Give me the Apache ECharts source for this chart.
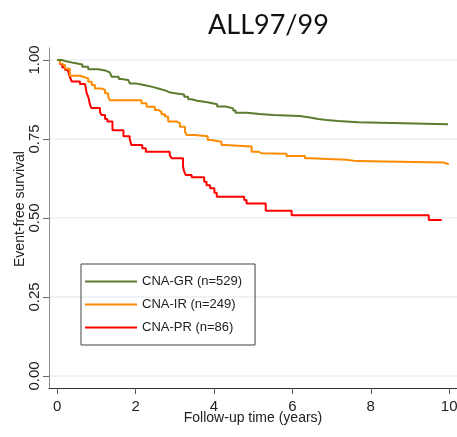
<!DOCTYPE html>
<html>
<head>
<meta charset="utf-8">
<script src="https://cdn.jsdelivr.net/npm/echarts@6/dist/echarts.min.js"></script>
<style>html,body{margin:0;padding:0;background:#fff;}#c{width:457px;height:437px;}</style>
</head>
<body>
<div id="c"></div>
<script>
const chartTitle = "ALL97/99";
const xTicks = [0, 2, 4, 6, 8, 10];
const yTicks = [0, 0.25, 0.5, 0.75, 1];
const seriesNames = ["CNA-GR (n=529)", "CNA-IR (n=249)", "CNA-PR (n=86)"];

const greenT = [0, 0.11, 0.20, 0.41, 0.64, 0.79, 1.05, 1.22, 1.34, 1.39, 1.57, 1.64, 1.81, 1.85, 2.00, 2.21, 2.43, 2.60, 2.77, 2.88, 3.00, 3.24, 3.34, 3.43, 3.57, 3.83, 4.08, 4.30, 4.49, 4.55, 4.84, 5.16, 5.51, 6.18, 6.45, 6.66, 6.87, 7.17, 7.68, 9.97];
const greenS = [1, 0.997, 0.991, 0.986, 0.979, 0.971, 0.967, 0.961, 0.955, 0.947, 0.940, 0.937, 0.931, 0.926, 0.921, 0.915, 0.909, 0.903, 0.897, 0.895, 0.891, 0.884, 0.876, 0.871, 0.866, 0.860, 0.853, 0.847, 0.840, 0.833, 0.829, 0.826, 0.823, 0.818, 0.813, 0.810, 0.807, 0.803, 0.797, 0.797];

const orangeT = [0, 0.07, 0.11, 0.20, 0.32, 0.58, 0.66, 0.79, 0.88, 0.96, 1.13, 1.22, 1.30, 1.34, 2.15, 2.28, 2.49, 2.58, 2.66, 2.75, 2.83, 3.05, 3.13, 3.26, 3.30, 3.52, 3.84, 3.94, 4.19, 4.28, 4.96, 5.13, 5.21, 5.85, 6.32, 6.45, 7.38, 7.64, 9.85, 9.99];
const orangeS = [1, 0.990, 0.984, 0.972, 0.950, 0.947, 0.942, 0.931, 0.921, 0.910, 0.905, 0.895, 0.884, 0.873, 0.863, 0.852, 0.842, 0.836, 0.828, 0.821, 0.805, 0.800, 0.789, 0.773, 0.763, 0.759, 0.747, 0.741, 0.731, 0.726, 0.710, 0.705, 0.703, 0.696, 0.689, 0.684, 0.680, 0.676, 0.670, 0.670];

const redT = [0, 0.07, 0.13, 0.20, 0.27, 0.32, 0.37, 0.58, 0.71, 0.75, 0.80, 0.83, 0.87, 1.09, 1.13, 1.22, 1.28, 1.41, 1.69, 1.85, 1.89, 2.17, 2.26, 2.87, 2.92, 3.21, 3.24, 3.28, 3.43, 3.75, 3.81, 3.90, 4.01, 4.07, 4.77, 4.83, 5.32, 5.98, 9.48, 9.81];
const redS = [1, 0.987, 0.976, 0.968, 0.962, 0.947, 0.932, 0.924, 0.919, 0.896, 0.880, 0.861, 0.848, 0.835, 0.826, 0.813, 0.805, 0.778, 0.759, 0.750, 0.731, 0.721, 0.710, 0.699, 0.689, 0.662, 0.647, 0.636, 0.629, 0.615, 0.604, 0.594, 0.580, 0.567, 0.557, 0.546, 0.523, 0.509, 0.494, 0.494];

const colors = ["#5b7b2f", "#ff8c00", "#ff0000"];
const pairs = (T, S) => T.map((t, i) => [t, S[i]]);
const seriesData = [pairs(greenT, greenS), pairs(orangeT, orangeS), pairs(redT, redS)];

const chart = echarts.init(document.getElementById('c'), null, {renderer: 'canvas'});
chart.setOption({
  animation: false,
  backgroundColor: '#ffffff',
  title: {
    text: chartTitle, left: 203, top: 7,
    textStyle: {fontFamily: 'Lato', fontSize: 27, fontWeight: 'normal', color: '#111'}
  },
  grid: {left: 49, right: 0, top: 48, bottom: 49, containLabel: false, outerBoundsMode: 'none'},
  legend: {
    orient: 'vertical', left: 81, top: 264,
    padding: [11, 13, 11, 4],
    borderColor: '#404040', borderWidth: 1,
    itemWidth: 52, itemHeight: 14, itemGap: 10,
    symbolKeepAspect: true,
    textStyle: {fontFamily: 'Liberation Sans', fontSize: 13, color: '#222'},
    data: seriesNames.map(n => ({name: n, icon: 'path://M0,0 L104,0 L104,4 L0,4 Z'}))
  },
  xAxis: {
    type: 'value', min: -0.21, max: 10.2,
    name: 'Follow-up time (years)', nameLocation: 'middle', nameGap: 23, nameMoveOverlap: false,
    nameTextStyle: {fontFamily: 'Liberation Sans', fontSize: 14, color: '#222'},
    axisLine: {show: true, onZero: false, lineStyle: {color: '#333', width: 1}},
    axisTick: {show: true, length: 6, customValues: xTicks, lineStyle: {color: '#555'}},
    axisLabel: {customValues: xTicks, margin: 11, fontFamily: 'Liberation Sans', fontSize: 15, color: '#222'},
    splitLine: {show: false}
  },
  yAxis: {
    type: 'value', min: -0.038, max: 1.038,
    name: 'Event-free survival', nameLocation: 'middle', nameGap: 22, nameRotate: 90, nameMoveOverlap: false,
    nameTextStyle: {fontFamily: 'Liberation Sans', fontSize: 14, color: '#222', padding: [0, 0, 0, 18]},
    axisLine: {show: true, onZero: false, lineStyle: {color: '#8c8c8c', width: 1}},
    axisTick: {show: true, length: 6, customValues: yTicks, lineStyle: {color: '#666'}},
    axisLabel: {customValues: yTicks, rotate: 90, margin: 7, fontFamily: 'Liberation Sans', fontSize: 15, color: '#222',
      formatter: v => v.toFixed(2)},
    splitLine: {show: true, lineStyle: {color: '#e8f0f2', width: 1.5}}
  },
  series: seriesNames.map((n, i) => ({
    name: n, type: 'line', step: 'end', symbol: 'none', showSymbol: false,
    data: seriesData[i],
    lineStyle: {color: colors[i], width: 2},
    itemStyle: {color: colors[i]},
    z: 3 - i
  }))
});
</script>
</body>
</html>
